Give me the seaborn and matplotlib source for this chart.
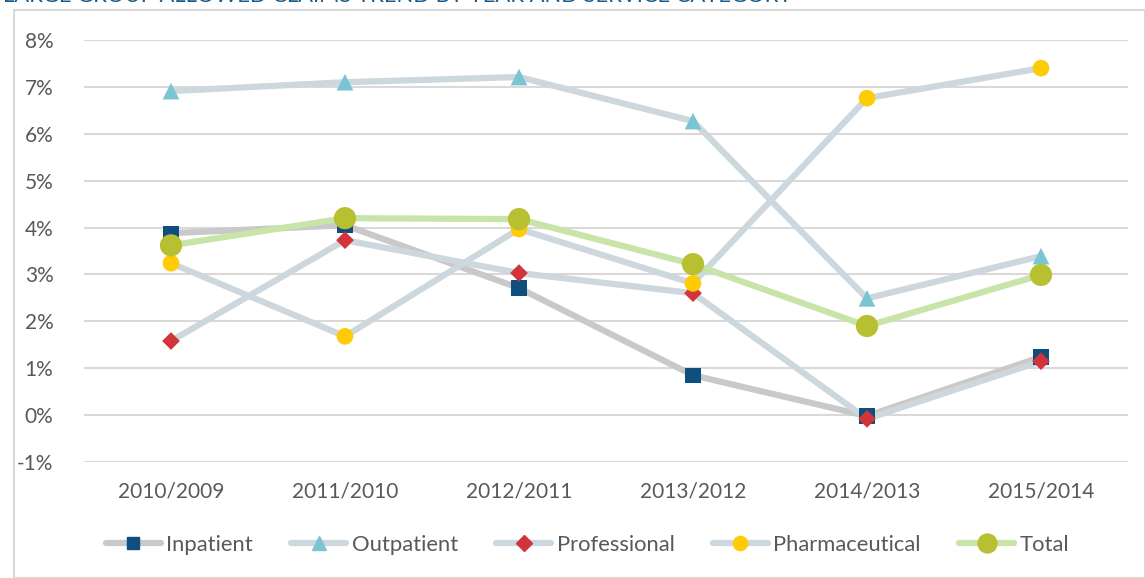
import matplotlib
matplotlib.use("Agg")
import matplotlib.pyplot as plt
import seaborn as sns
import pandas as pd
from matplotlib.patches import Rectangle
from matplotlib.lines import Line2D

periods = ["2010/2009", "2011/2010", "2012/2011", "2013/2012", "2014/2013", "2015/2014"]
inpatient = [3.88, 4.05, 2.71, 0.85, -0.02, 1.24]
outpatient = [6.91, 7.10, 7.21, 6.27, 2.49, 3.39]
professional = [1.58, 3.73, 3.03, 2.60, -0.08, 1.15]
pharmaceutical = [3.24, 1.68, 3.97, 2.81, 6.76, 7.40]
total = [3.62, 4.20, 4.18, 3.22, 1.90, 2.99]
y_ticks = [-1, 0, 1, 2, 3, 4, 5, 6, 7, 8]
title = "LARGE GROUP ALLOWED CLAIMS TREND BY YEAR AND SERVICE CATEGORY"

series = {
    "Inpatient": inpatient,
    "Outpatient": outpatient,
    "Professional": professional,
    "Pharmaceutical": pharmaceutical,
    "Total": total,
}
styles = {
    "Inpatient": dict(line="#c9c9c9", mk="s", mc="#0e4f7d", ms=11),
    "Outpatient": dict(line="#cdd7de", mk="^", mc="#7ac4d4", ms=12),
    "Professional": dict(line="#cdd7de", mk="D", mc="#d1343a", ms=9),
    "Pharmaceutical": dict(line="#cdd7de", mk="o", mc="#ffcb05", ms=12),
    "Total": dict(line="#c8e4a8", mk="o", mc="#b8bf30", ms=16),
}

rows = []
for name, vals in series.items():
    for p, v in zip(periods, vals):
        rows.append({"period": p, "value": v, "series": name})
df = pd.DataFrame(rows)

sns.set_theme(style="white")
plt.rcParams["font.family"] = ["Lato", "DejaVu Sans"]
FS = 15

fig = plt.figure(figsize=(11.45, 5.78), dpi=100)
ax = fig.add_axes([84 / 1145, 1 - 462 / 578, (1128 - 84) / 1145, (462 - 40) / 578])

fig.patches.append(Rectangle((14 / 1145, 0), 1 - 14 / 1145, 1 - 10 / 578,
                             transform=fig.transFigure, fill=False,
                             edgecolor="#d9d9d9", linewidth=1.5, zorder=0))

order = ["Inpatient", "Outpatient", "Professional", "Pharmaceutical", "Total"]
for name in order:
    st = styles[name]
    sub = df[df["series"] == name]
    sns.lineplot(data=sub, x="period", y="value", ax=ax, color=st["line"],
                 linewidth=4.5, sort=False, zorder=2)
for name in order:
    st = styles[name]
    sub = df[df["series"] == name]
    sns.scatterplot(data=sub, x="period", y="value", ax=ax, marker=st["mk"],
                    color=st["mc"], s=st["ms"] ** 2, edgecolor="none",
                    linewidth=0, zorder=3)

ax.set_xlim(-0.5, len(periods) - 0.5)
ax.set_ylim(-1, 8)
ax.set_yticks(y_ticks)
ax.set_yticklabels([f"{t}%" for t in y_ticks])
ax.yaxis.grid(True, color="#d9d9d9", linewidth=1.5)
ax.xaxis.grid(False)
ax.set_axisbelow(True)
for s in ax.spines.values():
    s.set_visible(False)
ax.set_xlabel("")
ax.set_ylabel("")
ax.tick_params(axis="both", length=0, labelsize=FS, colors="#595959")
ax.tick_params(axis="y", pad=22)
ax.tick_params(axis="x", pad=14)
if ax.get_legend():
    ax.get_legend().remove()

handles = [Line2D([0], [0], color=styles[n]["line"], linewidth=4.5,
                  marker=styles[n]["mk"], markerfacecolor=styles[n]["mc"],
                  markeredgecolor=styles[n]["mc"], markersize=styles[n]["ms"] * 0.85)
           for n in order]
fig.legend(handles, order, loc="center", bbox_to_anchor=(0.513, 1 - 545 / 578),
           ncol=5, frameon=False, fontsize=15.8, labelcolor="#595959",
           handlelength=2.5, handletextpad=0.25, columnspacing=1.75)

t = fig.text(3 / 1145, 1 - 2 / 578, title, color="#1a5a8a", fontsize=16,
             ha="left", va="baseline")
fig.canvas.draw()
w = t.get_window_extent().width
t.set_fontsize(16 * 790 / w)

fig.savefig("out.png", dpi=100)
